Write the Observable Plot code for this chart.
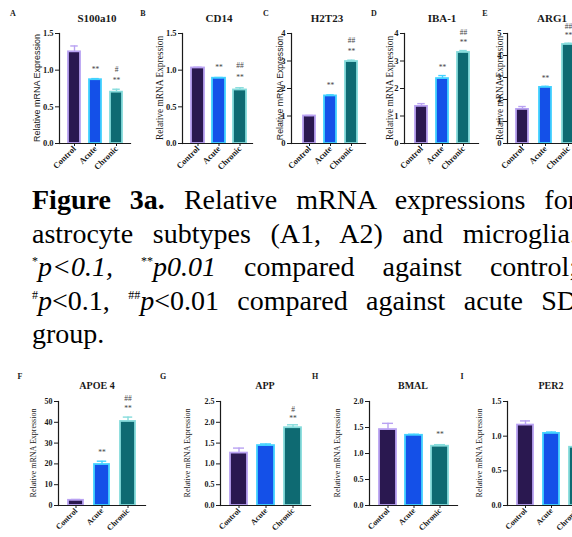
<!DOCTYPE html>
<html><head><meta charset="utf-8">
<script src="https://cdn.jsdelivr.net/npm/d3@7"></script>
<script src="https://cdn.jsdelivr.net/npm/@observablehq/plot@0.6"></script>
<style>
html,body{margin:0;padding:0;background:#fff;}
#fig{position:relative;width:572px;height:537px;overflow:hidden;background:#fff;}
.box{position:absolute;}
.box svg{max-width:none !important;}
.title,.letter{position:absolute;font-family:'Liberation Serif','Times New Roman',Times,'Nimbus Roman',serif;font-weight:bold;transform:translate(-50%,-50%);white-space:nowrap;color:#1a1a1a;}
.ylab{position:absolute;transform:translate(-50%,-50%) rotate(-90deg);white-space:nowrap;color:#1a1a1a;}
.cap{position:absolute;left:32px;width:545px;font-family:'Liberation Serif','Times New Roman',Times,'Nimbus Roman',serif;font-size:28px;line-height:33.6px;height:33.6px;color:#000;white-space:normal;}
.just{text-align:justify;text-align-last:justify;}
.cap sup{font-size:12px;vertical-align:baseline;position:relative;top:-11px;line-height:0;}
</style>
</head><body>
<div id="fig"></div>
<script>
// ---------- data ----------
const groups = ["Control", "Acute", "Chronic"];
const barFill = ["#2a1850", "#1450e8", "#0e6a72"];
const barStroke = ["#b9a2f2", "#43d2ff", "#86dcdc"];

// A  S100a10
const s100a10Mean = [1.25, 0.87, 0.70];
const s100a10Err = [0.08, 0.015, 0.04];
const s100a10VsCtrl = ["", "**", "**"];
const s100a10VsAcute = ["", "", "#"];
// B  CD14
const cd14Mean = [1.03, 0.89, 0.73];
const cd14Err = [0.01, 0.01, 0.03];
const cd14VsCtrl = ["", "**", "**"];
const cd14VsAcute = ["", "", "##"];
// C  H2T23
const h2t23Mean = [1.0, 1.73, 2.98];
const h2t23Err = [0.02, 0.04, 0.05];
const h2t23VsCtrl = ["", "**", "**"];
const h2t23VsAcute = ["", "", "##"];
// D  IBA-1
const iba1Mean = [1.35, 2.36, 3.31];
const iba1Err = [0.10, 0.11, 0.07];
const iba1VsCtrl = ["", "**", "**"];
const iba1VsAcute = ["", "", "##"];
// E  ARG1
const arg1Mean = [1.55, 2.55, 4.5];
const arg1Err = [0.13, 0.05, 0.06];
const arg1VsCtrl = ["", "**", "**"];
const arg1VsAcute = ["", "", "##"];
// F  APOE 4
const apoe4Mean = [2.5, 19.7, 40.4];
const apoe4Err = [0.4, 1.6, 2.1];
const apoe4VsCtrl = ["", "**", "**"];
const apoe4VsAcute = ["", "", "##"];
// G  APP
const appMean = [1.26, 1.44, 1.87];
const appErr = [0.12, 0.04, 0.07];
const appVsCtrl = ["", "", "**"];
const appVsAcute = ["", "", "#"];
// H  BMAL
const bmalMean = [1.46, 1.35, 1.14];
const bmalErr = [0.12, 0.02, 0.03];
const bmalVsCtrl = ["", "", "**"];
const bmalVsAcute = ["", "", ""];
// I  PER2
const per2Mean = [1.16, 1.04, 0.84];
const per2Err = [0.06, 0.02, 0.02];
const per2VsCtrl = ["", "", ""];
const per2VsAcute = ["", "", ""];

const yLabel = "Relative mRNA Expression";

// ---------- layout ----------
const SERIF = "'Liberation Serif','Times New Roman',Times,'Nimbus Roman',serif";
const SANS = "'Liberation Sans',Arial,Helvetica,sans-serif";
const TOP = {boxTop: 0, boxBottom: 180, top: 33, bottom: 143, tick: 8.5, titleY: 18, titleSize: 11, letterY: 13, labY: 88};
const BOT = {boxTop: 360, boxBottom: 537, top: 401, bottom: 505, tick: 8, titleY: 385, titleSize: 10, letterY: 376, labY: 453};

const panels = [
  {row: TOP, letter: "A", lx: 13, title: "S100a10", tx: 97, mean: s100a10Mean, err: s100a10Err, vsCtrl: s100a10VsCtrl, vsAcute: s100a10VsAcute, yMax: 1.5, yStep: 0.5, fmt: ".1f", left: 59, right: 130, c0: 73.5, step: 21.3, barW: 12.5, labX: 37, labFont: SANS, labSize: 9, dyA: -9, dyB: -20},
  {row: TOP, letter: "B", lx: 143, title: "CD14", tx: 219, mean: cd14Mean, err: cd14Err, vsCtrl: cd14VsCtrl, vsAcute: cd14VsAcute, yMax: 1.5, yStep: 0.5, fmt: ".1f", left: 182, right: 252, c0: 197, step: 21, barW: 12.5, labX: 160, labFont: SERIF, labSize: 9.4, dyA: -10, dyB: -22},
  {row: TOP, letter: "C", lx: 266, title: "H2T23", tx: 327, mean: h2t23Mean, err: h2t23Err, vsCtrl: h2t23VsCtrl, vsAcute: h2t23VsAcute, yMax: 4, yStep: 1, fmt: "d", left: 291, right: 365, c0: 309, step: 21.5, barW: 12.5, labX: 280, labFont: SANS, labSize: 8.7, dyA: -9, dyB: -20},
  {row: TOP, letter: "D", lx: 374, title: "IBA-1", tx: 442, mean: iba1Mean, err: iba1Err, vsCtrl: iba1VsCtrl, vsAcute: iba1VsAcute, yMax: 4, yStep: 1, fmt: "d", left: 404, right: 478, c0: 421, step: 21.2, barW: 12.5, labX: 390, labFont: SERIF, labSize: 9.4, dyA: -8, dyB: -18},
  {row: TOP, letter: "E", lx: 485, title: "ARG1", tx: 552, mean: arg1Mean, err: arg1Err, vsCtrl: arg1VsCtrl, vsAcute: arg1VsAcute, yMax: 5, yStep: 1, fmt: "d", left: 507, right: 600, c0: 521.5, step: 23.5, barW: 12.5, labX: 500, labFont: SERIF, labSize: 9.4, dyA: -7.5, dyB: -17},
  {row: BOT, letter: "F", lx: 20, title: "APOE 4", tx: 97, mean: apoe4Mean, err: apoe4Err, vsCtrl: apoe4VsCtrl, vsAcute: apoe4VsAcute, yMax: 50, yStep: 10, fmt: "d", left: 58, right: 145, c0: 75, step: 26.3, barW: 15.5, labX: 33, labFont: SERIF, labSize: 8, dyA: -9, dyB: -19},
  {row: BOT, letter: "G", lx: 163, title: "APP", tx: 265, mean: appMean, err: appErr, vsCtrl: appVsCtrl, vsAcute: appVsAcute, yMax: 2.5, yStep: 0.5, fmt: ".1f", left: 220, right: 310, c0: 238, step: 27, barW: 16.5, labX: 187, labFont: SERIF, labSize: 8, dyA: -6, dyB: -15.5},
  {row: BOT, letter: "H", lx: 315, title: "BMAL", tx: 413, mean: bmalMean, err: bmalErr, vsCtrl: bmalVsCtrl, vsAcute: bmalVsAcute, yMax: 2.0, yStep: 0.5, fmt: ".1f", left: 369, right: 457, c0: 387, step: 26, barW: 16.5, labX: 337, labFont: SERIF, labSize: 8, dyA: -10, dyB: -19},
  {row: BOT, letter: "I", lx: 462, title: "PER2", tx: 551, mean: per2Mean, err: per2Err, vsCtrl: per2VsCtrl, vsAcute: per2VsAcute, yMax: 1.5, yStep: 0.5, fmt: ".1f", left: 507, right: 600, c0: 525, step: 26.5, barW: 16.5, labX: 479, labFont: SERIF, labSize: 8, dyA: -9, dyB: -19}
];

const fig = document.getElementById("fig");

function addDiv(cls, text, x, y, style) {
  const d = document.createElement("div");
  d.className = cls;
  d.textContent = text;
  d.style.left = x + "px";
  d.style.top = y + "px";
  Object.assign(d.style, style || {});
  fig.appendChild(d);
  return d;
}

function makePanel(p) {
  const r = p.row;
  const rows = groups.map((g, i) => ({
    group: g, mean: p.mean[i], hi: p.mean[i] + p.err[i],
    a: p.vsCtrl[i], b: p.vsAcute[i], fill: barFill[i], stroke: barStroke[i]
  }));
  const boxL = Math.max(0, p.left - 60);
  const boxR = p.right + 8;
  const w = boxR - boxL, h = r.boxBottom - r.boxTop;
  const s = p.step, bw = p.barW;
  const pi = 1 - bw / s;
  const chart = Plot.plot({
    width: w, height: h,
    marginLeft: p.left - boxL, marginRight: boxR - p.right,
    marginTop: r.top - r.boxTop, marginBottom: r.boxBottom - r.bottom,
    style: {background: "transparent", fontFamily: SERIF, fontWeight: "bold", fontSize: r.tick + "px", color: "#1a1a1a", overflow: "visible", maxWidth: "none"},
    x: {domain: groups, range: [p.c0 - s / 2 - boxL, p.c0 + 2.5 * s - boxL], paddingInner: pi, paddingOuter: pi / 2, label: null},
    y: {domain: [0, p.yMax], label: null},
    color: {type: "identity"},
    marks: [
      Plot.ruleX(rows, {x: "group", y1: "mean", y2: "hi", stroke: "stroke", strokeWidth: 1.4}),
      Plot.barY(rows, {x: "group", y: "mean", fill: "fill", stroke: "stroke", strokeWidth: 1.8}),
      Plot.tickY(rows, {x: "group", y: "hi", stroke: "stroke", strokeWidth: 1.4, insetLeft: bw * 0.18, insetRight: bw * 0.18}),
      Plot.text(rows, {x: "group", y: "hi", text: "a", dy: p.dyA, fontSize: 7.5, fontWeight: "normal", fill: "#444"}),
      Plot.text(rows, {x: "group", y: "hi", text: "b", dy: p.dyB, fontSize: 7.5, fontWeight: "normal", fill: "#444"}),
      Plot.axisY({ticks: d3.range(0, p.yMax + p.yStep / 2, p.yStep), tickFormat: p.fmt, tickSize: 4, tickPadding: 2, label: null, fontSize: r.tick}),
      Plot.axisX({tickRotate: -45, tickSize: 3, tickPadding: 1, label: null, fontSize: r.tick}),
      Plot.frame({anchor: "left", strokeWidth: 1.2}),
      Plot.frame({anchor: "bottom", strokeWidth: 1.2})
    ]
  });
  const box = document.createElement("div");
  box.className = "box";
  box.style.left = boxL + "px";
  box.style.top = r.boxTop + "px";
  box.style.width = w + "px";
  box.style.height = h + "px";
  box.appendChild(chart);
  fig.appendChild(box);

  addDiv("title", p.title, p.tx, r.titleY, {fontSize: r.titleSize + "px"});
  addDiv("letter", p.letter, p.lx, r.letterY, {fontSize: "8px"});
  addDiv("ylab", yLabel, p.labX, r.labY, {fontFamily: p.labFont, fontSize: p.labSize + "px"});
}

panels.forEach(makePanel);

// ---------- caption ----------
const capLines = [
  {cls: "cap just", html: "<b>Figure 3a.</b> Relative mRNA expressions for"},
  {cls: "cap just", html: "astrocyte subtypes (A1, A2) and microglia."},
  {cls: "cap just", html: "<sup>*</sup><i>p&lt;0.1,</i> <sup>**</sup><i>p0.01</i> compared against control;"},
  {cls: "cap just", html: "<sup>#</sup><i>p</i>&lt;0.1, <sup>##</sup><i>p</i>&lt;0.01 compared against acute SD"},
  {cls: "cap", html: "group."}
];
capLines.forEach((l, i) => {
  const d = document.createElement("div");
  d.className = l.cls;
  d.innerHTML = l.html;
  d.style.top = (183 + i * 33.6) + "px";
  fig.appendChild(d);
});
</script>
</body></html>
